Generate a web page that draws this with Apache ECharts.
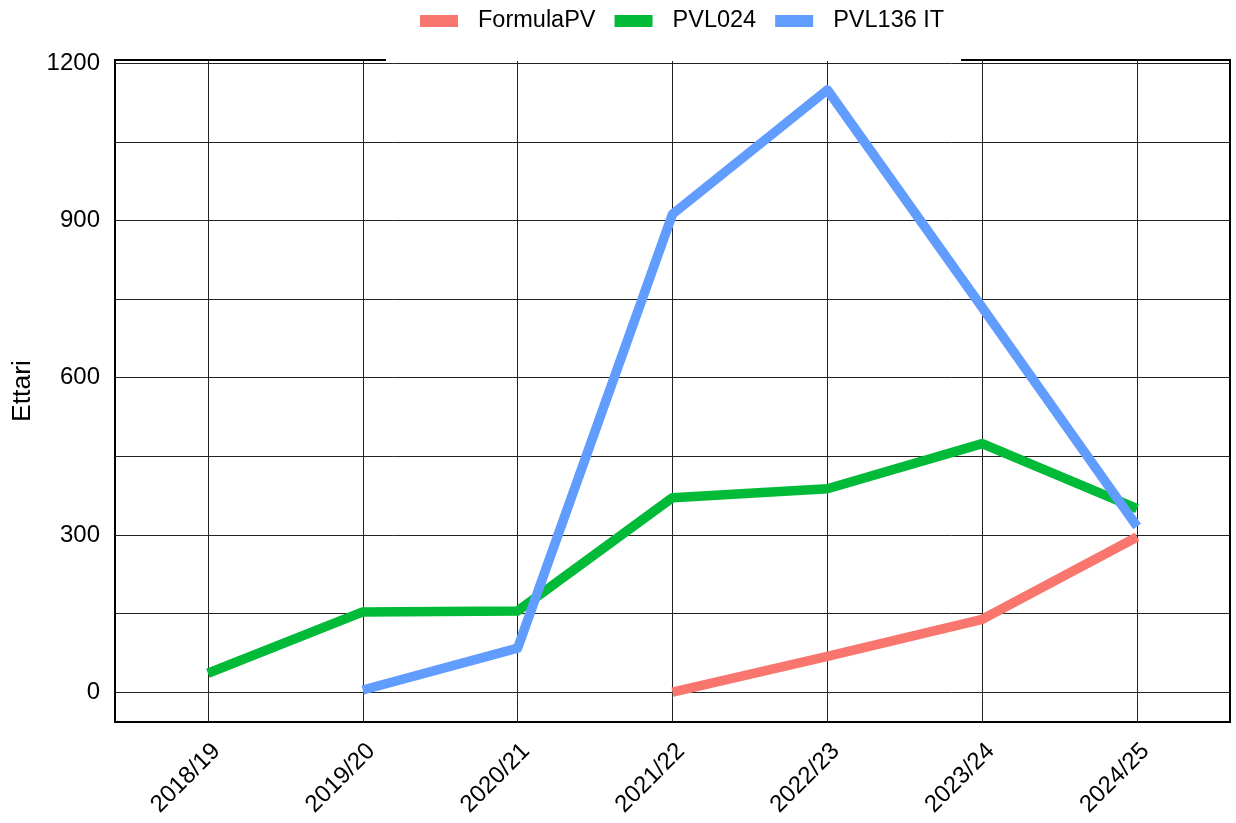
<!DOCTYPE html>
<html>
<head>
<meta charset="utf-8">
<script src="https://cdn.jsdelivr.net/npm/echarts@6/dist/echarts.min.js"></script>
<style>html,body{margin:0;padding:0;background:#fff;}#c{width:1236px;height:823px;}</style>
</head>
<body>
<div id="c"></div>
<script>
var categories = ['2018/19','2019/20','2020/21','2021/22','2022/23','2023/24','2024/25'];
var formulaPV = [null, null, null, 0, 68, 139, 296];
var pvl024 = [36, 153, 155, 371, 388, 474, 350];
var pvl136 = [null, 4, 84, 912, 1149, 734, 316];
var seriesNames = ['FormulaPV', 'PVL024', 'PVL136 IT'];
var seriesColors = ['#F8766D', '#00BA38', '#619CFF'];
var yMajorTicks = [0, 300, 600, 900, 1200];
var yMinorTicks = [150, 450, 750, 1050];
var yTitle = 'Ettari';

function toPairs(arr) {
  var out = [];
  arr.forEach(function (v, i) { if (v !== null) out.push([i, v]); });
  return out;
}
var allSeries = [formulaPV, pvl024, pvl136];
var FONT = '"Liberation Sans", Arial, sans-serif';
var xIdx = categories.map(function (c, i) { return i; });

var chart = echarts.init(document.getElementById('c'), null, {renderer: 'canvas'});
chart.setOption({
  animation: false,
  backgroundColor: '#fff',
  textStyle: {fontFamily: FONT},
  graphic: [{
    type: 'rect', z: 100,
    shape: {x: 386, y: 0, width: 575, height: 61},
    style: {fill: '#fff'}
  }],
  legend: {
    z: 200,
    data: seriesNames,
    left: 420, top: 9,
    padding: 0,
    itemWidth: 38, itemHeight: 12,
    itemGap: 19,
    icon: 'rect',
    textStyle: {fontSize: 23.5, color: '#000', fontFamily: FONT, padding: [0, 0, 0, 15]}
  },
  grid: {
    left: 115, right: 6, top: 60, bottom: 101,
    containLabel: false, outerBoundsMode: 'none',
    show: true, borderColor: '#000', borderWidth: 2, backgroundColor: 'transparent'
  },
  xAxis: {
    type: 'value', min: -0.6, max: 6.6,
    axisLine: {show: false},
    axisTick: {show: true, customValues: xIdx, length: 7, lineStyle: {color: '#333', width: 1}},
    axisLabel: {
      customValues: xIdx, rotate: 45, margin: 17, fontSize: 24, color: '#000', fontFamily: FONT,
      verticalAlign: 'top',
      formatter: function (v) { return categories[Math.round(v)]; }
    },
    splitLine: {show: true, lineStyle: {color: '#222', width: 1}}
  },
  yAxis: [{
    type: 'value', min: -57, max: 1206,
    name: yTitle, nameLocation: 'middle', nameGap: 74, nameRotate: 90,
    nameTextStyle: {fontSize: 26.5, color: '#000', fontFamily: FONT},
    axisLine: {show: false},
    axisTick: {show: true, customValues: yMajorTicks, length: 7, lineStyle: {color: '#333', width: 1}},
    axisLabel: {customValues: yMajorTicks, margin: 15, fontSize: 24, color: '#000', fontFamily: FONT,
      formatter: function (v) { return String(v); }},
    splitLine: {show: true, lineStyle: {color: '#222', width: 1}}
  }, {
    type: 'value', min: -57, max: 1206, position: 'left',
    axisLine: {show: false},
    axisTick: {show: false, customValues: yMinorTicks},
    axisLabel: {show: false, customValues: yMinorTicks},
    splitLine: {show: true, lineStyle: {color: '#222', width: 1}}
  }],
  series: allSeries.map(function (arr, k) {
    return {
      name: seriesNames[k], type: 'line', yAxisIndex: 0,
      data: toPairs(arr), showSymbol: false, symbol: 'none',
      color: seriesColors[k],
      lineStyle: {width: 9.5, color: seriesColors[k], cap: 'butt', join: 'round'},
      z: 3 + k
    };
  })
});
</script>
</body>
</html>
